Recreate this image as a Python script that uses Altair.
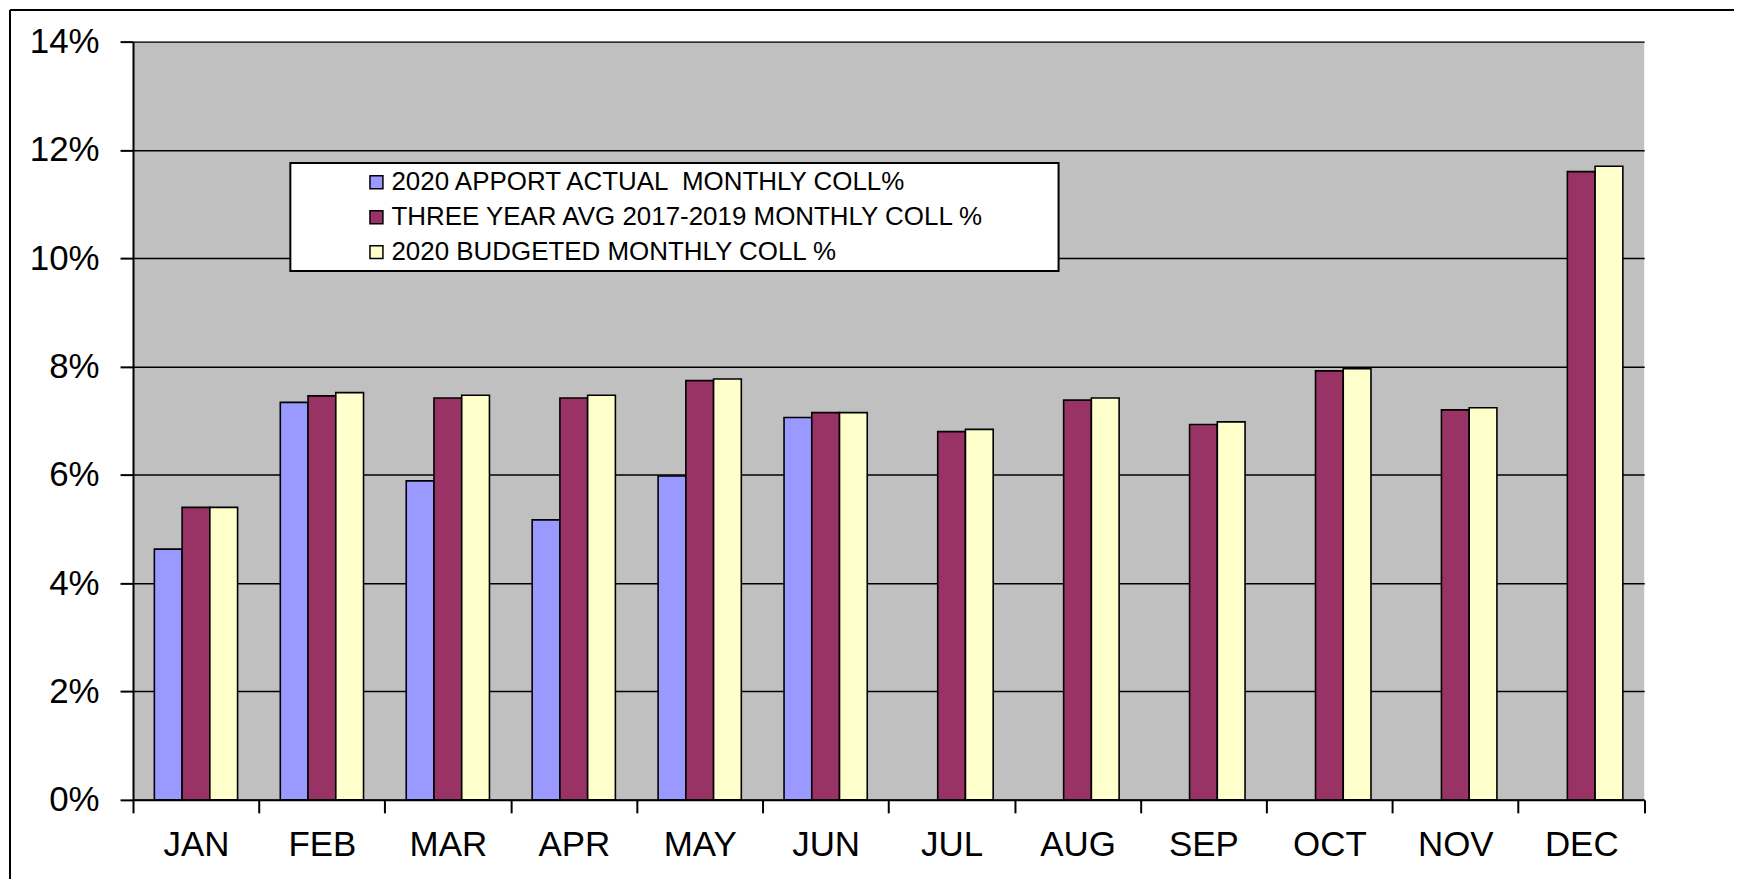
import altair as alt
import pandas as pd

months = ["JAN", "FEB", "MAR", "APR", "MAY", "JUN", "JUL", "AUG", "SEP", "OCT", "NOV", "DEC"]
series = [
    "2020 APPORT ACTUAL \u00a0MONTHLY COLL%",
    "THREE YEAR AVG 2017-2019 MONTHLY COLL %",
    "2020 BUDGETED MONTHLY COLL %",
]
actual_2020 = [4.63, 7.34, 5.89, 5.17, 5.98, 7.06, None, None, None, None, None, None]
three_year_avg = [5.40, 7.46, 7.42, 7.42, 7.74, 7.15, 6.80, 7.38, 6.93, 7.92, 7.20, 11.60]
budget_2020 = [5.40, 7.52, 7.47, 7.47, 7.77, 7.15, 6.84, 7.42, 6.98, 7.96, 7.24, 11.70]
colors = ["#9999FF", "#993366", "#FFFFCC"]
y_ticks = [0, 2, 4, 6, 8, 10, 12, 14]

rows = []
for s, vals in zip(series, [actual_2020, three_year_avg, budget_2020]):
    for m, v in zip(months, vals):
        if v is not None:
            rows.append({"month": m, "series": s, "value": v})
df = pd.DataFrame(rows)

FONT = "Liberation Sans"
W, H = 1514.7, 760

bars = alt.Chart(df).mark_bar(stroke="black", strokeWidth=1.6).encode(
    x=alt.X(
        "month:N",
        sort=months,
        title=None,
        scale=alt.Scale(paddingInner=0, paddingOuter=0),
        axis=alt.Axis(
            labelAngle=0,
            labelFont=FONT,
            labelFontSize=35,
            labelColor="black",
            labelPadding=15,
            tickBand="extent",
            tickSize=13,
            tickColor="black",
            tickWidth=2,
            domainColor="black",
            domainWidth=2,
            grid=False,
        ),
    ),
    xOffset=alt.XOffset(
        "series:N",
        sort=series,
        scale=alt.Scale(paddingInner=0, paddingOuter=0.77),
    ),
    y=alt.Y(
        "value:Q",
        title=None,
        scale=alt.Scale(domain=[0, 14], nice=False),
        axis=alt.Axis(
            values=y_ticks,
            labelExpr="datum.value + '%'",
            labelFont=FONT,
            labelFontSize=35,
            labelColor="black",
            labelPadding=21,
            tickSize=13,
            tickColor="black",
            tickWidth=2,
            domainColor="black",
            domainWidth=2,
            grid=True,
            gridColor="black",
            gridWidth=1.5,
        ),
    ),
    color=alt.Color(
        "series:N",
        sort=series,
        scale=alt.Scale(domain=series, range=colors),
        legend=alt.Legend(
            title=None,
            orient="none",
            legendX=231,
            legendY=128,
            direction="vertical",
            symbolType="square",
            symbolSize=169,
            symbolStrokeColor="black",
            symbolStrokeWidth=1.5,
            symbolOpacity=1,
            labelFont=FONT,
            labelFontSize=26,
            labelColor="black",
            labelLimit=0,
            labelOffset=2,
            rowPadding=9,
            padding=0,
        ),
    ),
)

one = pd.DataFrame({"a": [0]})

legend_box = alt.Chart(one).mark_rect(fill="white", stroke="black", strokeWidth=2).encode(
    x=alt.value(157.7), x2=alt.value(927.7), y=alt.value(121.6), y2=alt.value(230.0)
)

border_left = alt.Chart(one).mark_rule(color="black", strokeWidth=2).encode(
    x=alt.value(-123.3), y=alt.value(-31.7), y2=alt.value(845)
)
border_top = alt.Chart(one).mark_rule(color="black", strokeWidth=2).encode(
    x=alt.value(-123.3), x2=alt.value(1620), y=alt.value(-31.7)
)

chart = (
    alt.layer(bars, legend_box, border_left, border_top)
    .properties(
        width=W,
        height=H,
        autosize=alt.AutoSizeParams(type="none"),
        padding={"left": 125.3, "top": 32.7, "right": 90, "bottom": 78},
        background="white",
    )
    .configure_view(fill="#C0C0C0", strokeWidth=0)
)

chart.save("out.html", embed_options={"renderer": "svg", "actions": False})
